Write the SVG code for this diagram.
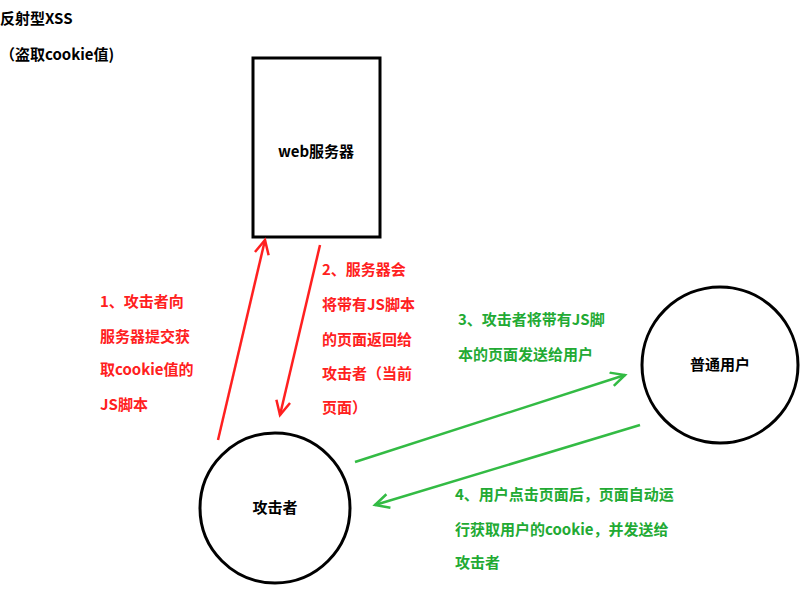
<svg xmlns="http://www.w3.org/2000/svg" width="800" height="600" viewBox="0 0 800 600">
<defs>
<style>
text{font-family:"Microsoft YaHei","Noto Sans CJK SC",sans-serif;font-weight:bold;font-size:15px}
.r{fill:#ff2020}.g{fill:#22aa33}.k{fill:#000}
.node{fill:#fff;stroke:#000;stroke-width:3}
.rl{stroke:#ff2020;stroke-width:2.5;fill:none}
.gl{stroke:#33bb44;stroke-width:2.5;fill:none}
</style>
<marker id="mr" markerWidth="20" markerHeight="20" refX="16" refY="8" orient="auto" markerUnits="userSpaceOnUse"><path d="M2,1 L16,8 L2,15" fill="none" stroke="#ff2020" stroke-width="2.5"/></marker>
<marker id="mg" markerWidth="20" markerHeight="20" refX="16" refY="8" orient="auto" markerUnits="userSpaceOnUse"><path d="M2,1 L16,8 L2,15" fill="none" stroke="#33bb44" stroke-width="2.5"/></marker>
</defs>
<rect width="800" height="600" fill="#fff"/>
<text x="0" y="24" class="k">反射型XSS</text>
<text x="0" y="60" class="k">（盗取cookie值)</text>
<g id="server"><rect x="253" y="58" width="127" height="179" class="node"/><text x="316" y="157" text-anchor="middle" class="k">web服务器</text></g>
<g id="attacker"><circle cx="275" cy="508" r="75" class="node"/><text x="275" y="513" text-anchor="middle" class="k">攻击者</text></g>
<g id="user"><circle cx="720" cy="365" r="78" class="node"/><text x="720" y="370" text-anchor="middle" class="k">普通用户</text></g>
<g id="connectors">
<line x1="218" y1="440" x2="265" y2="240" class="rl" marker-end="url(#mr)"/>
<line x1="320" y1="245" x2="280" y2="415" class="rl" marker-end="url(#mr)"/>
<line x1="355" y1="462" x2="625" y2="375" class="gl" marker-end="url(#mg)"/>
<line x1="640" y1="425" x2="375" y2="505" class="gl" marker-end="url(#mg)"/>
</g>
<g class="r">
<text x="100" y="307">1、攻击者向</text><text x="100" y="342">服务器提交获</text><text x="100" y="375">取cookie值的</text><text x="100" y="410">JS脚本</text>
<text x="322" y="275">2、服务器会</text><text x="322" y="310">将带有JS脚本</text><text x="322" y="345">的页面返回给</text><text x="322" y="379">攻击者（当前</text><text x="322" y="413">页面）</text>
</g>
<g class="g">
<text x="458" y="325">3、攻击者将带有JS脚</text><text x="458" y="360">本的页面发送给用户</text>
<text x="455" y="500">4、用户点击页面后，页面自动运</text><text x="455" y="535">行获取用户的cookie，并发送给</text><text x="455" y="568">攻击者</text>
</g>
</svg>
